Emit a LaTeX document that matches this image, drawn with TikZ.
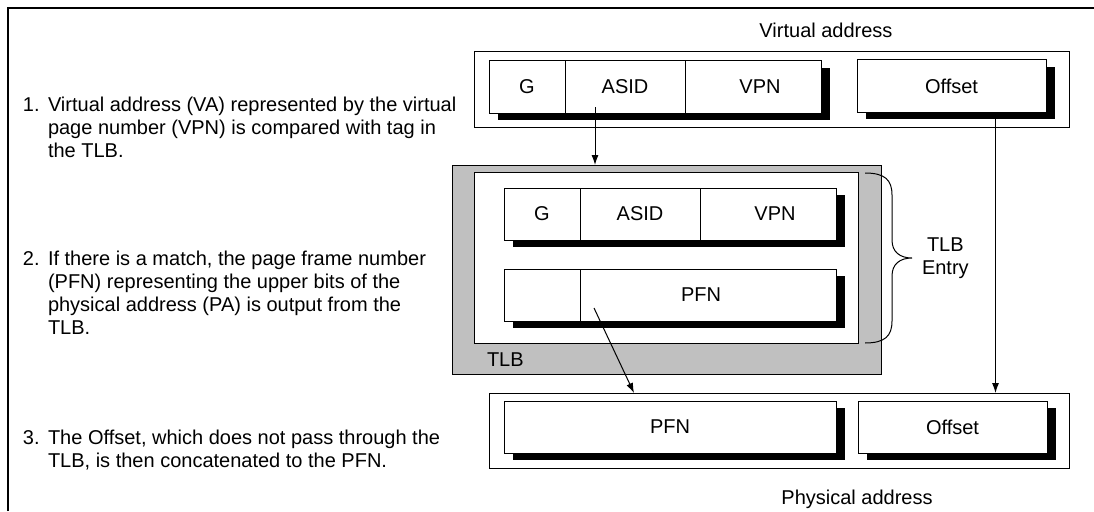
\documentclass[tikz,border=0pt]{standalone}
\usepackage{fontspec}
\setmainfont{Liberation Sans}
\usepackage{tikz}
\usetikzlibrary{arrows.meta,calc,positioning,shadows}
\definecolor{tlbgray}{RGB}{192,192,192}

\begin{document}
\begin{tikzpicture}[x=1pt,y=-1pt,
    every node/.style={font=\fontsize{20}{23}\selectfont, inner sep=0pt, outer sep=0pt},
    box/.style={draw, line width=1pt, anchor=north west},
    cell/.style={draw, line width=1pt, fill=white, anchor=north west, minimum height=52pt,
      drop shadow={shadow xshift=9pt, shadow yshift=-7pt, fill=black, opacity=1}},
    flow/.style={-{Latex[length=10pt,width=7pt]}, line width=1pt}]
  \useasboundingbox (0,0) rectangle (1094,511);
  \draw[line width=1.5pt] (8,511) -- (8,8) -- (1094,8);

  % steps
  \node[anchor=base west] (n1) at (23,111) {1.};
  \node[anchor=north west, align=left] (t1) at ([xshift=25pt]n1.north west)
    {Virtual address (VA) represented by the virtual\\page number (VPN) is compared with tag in\\the TLB.};
  \node[anchor=base west] (n2) at (23,265) {2.};
  \node[anchor=north west, align=left] (t2) at ([xshift=25pt]n2.north west)
    {If there is a match, the page frame number\\(PFN) representing the upper bits of the\\physical address (PA) is output from the\\TLB.};
  \node[anchor=base west] (n3) at (23,444) {3.};
  \node[anchor=north west, align=left] (t3) at ([xshift=25pt]n3.north west)
    {The Offset, which does not pass through the\\TLB, is then concatenated to the PFN.};

  % virtual address
  \node (valbl) at (826,30) {Virtual address};
  \node[box, minimum width=595pt, minimum height=75pt] (va) at (474,52) {};
  \node[cell, minimum width=76pt] (vag) at (489,61) {G};
  \node[cell, minimum width=120pt, right=0pt of vag] (vaasid) {ASID};
  \node[cell, minimum width=136pt, right=0pt of vaasid] (vavpn) {\hspace*{14pt}VPN};
  \node[cell, minimum width=189pt] (vaoff) at (857,60) {Offset};

  % TLB
  \node[box, fill=tlbgray, minimum width=429pt, minimum height=209pt] (tlb) at (452,165) {};
  \node[anchor=west] (tlblbl) at (487,360) {TLB};
  \node[box, fill=white, minimum width=384pt, minimum height=171pt] (entry) at (474,172) {};
  \node[cell, minimum width=76pt] (tg) at (504,188) {G};
  \node[cell, minimum width=120pt, right=0pt of tg] (tasid) {ASID};
  \node[cell, minimum width=136pt, right=0pt of tasid] (tvpn) {\hspace*{14pt}VPN};
  \node[cell, minimum width=76pt] (tflag) at (504,269) {};
  \node[cell, minimum width=256pt, right=0pt of tflag] (tpfn) {PFN\hspace*{14pt}};

  % TLB entry brace
  \coordinate (tip) at (912,258);
  \draw[line width=1pt] (865,173) .. controls (885,173) and (892,180) .. (892,195) -- (892,240)
    .. controls (892,252) and (900,258) .. (tip)
    .. controls (900,258) and (892,264) .. (892,276) -- (892,321)
    .. controls (892,336) and (885,343) .. (865,343);
  \node[align=center, right=10pt of tip] (entrylbl) {TLB\\Entry};

  % physical address
  \node[box, minimum width=580pt, minimum height=75pt] (pa) at (489,393) {};
  \node[cell, minimum width=332pt] (papfn) at (504,401) {PFN};
  \node[cell, minimum width=189pt] (paoff) at (858,401) {Offset};
  \node (palbl) at (857,499) {Physical address};

  % translation paths
  \coordinate (asidtap) at ([shift={(-30pt,6pt)}]vaasid.south);
  \coordinate (offtap) at ([xshift=44pt]vaoff.south);
  \coordinate (pfntap) at ([shift={(-114pt,-13pt)}]tpfn.center);
  \coordinate (pfnin) at ([xshift=145pt]pa.north west);
  \draw[flow] (asidtap) -- (asidtap |- tlb.north);
  \draw[flow] (offtap) -- (offtap |- pa.north);
  \draw[flow] (pfntap) -- (pfnin);
\end{tikzpicture}
\end{document}
